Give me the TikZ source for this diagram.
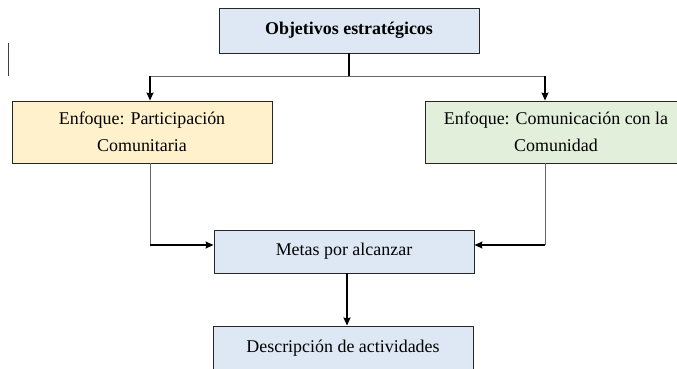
\documentclass[tikz,border=0pt]{standalone}
\usepackage{fontspec}
\setmainfont{Liberation Serif}
\usetikzlibrary{positioning,arrows.meta}

\definecolor{azul}{HTML}{DEE8F5}
\definecolor{amarillo}{HTML}{FFF1CC}
\definecolor{verde}{HTML}{E2EFDA}

\tikzset{
    caja/.style={draw=black!85, line width=0.9pt, align=center, inner sep=0pt,
        font=\fontsize{18}{27}\selectfont},
    flecha/.style={-{Stealth[length=8bp,width=7bp,inset=1bp]}, line width=1.3pt},
    linea/.style={line width=0.9pt, draw=black!60}
}

\begin{document}
\begin{tikzpicture}[x=1bp, y=-1bp]
        \useasboundingbox (0,0) rectangle (677,368);
        \clip (0,0) rectangle (677,368);
        %\draw[gray, dashed] (0,0) grid (677,368);

        \node[caja, fill=azul, minimum width=260bp, minimum height=45bp] (obj) at (349,30.5)
            {\textbf{Objetivos estratégicos}};
        \node[caja, fill=amarillo, minimum width=260bp, minimum height=62bp] (part) at (142,132)
            {Enfoque: Participación\\Comunitaria};
        \node[caja, fill=verde, minimum width=262bp, minimum height=62bp] (comu) at (556,132)
            {Enfoque: Comunicación con la\\Comunidad};
        \node[caja, fill=azul, minimum width=260bp, minimum height=43bp] (metas) at (344,251.5)
            {Metas por alcanzar};
        \node[caja, fill=azul, minimum width=260bp, minimum height=44bp] (desc) at (343,348)
            {Descripción de actividades};

        \coordinate (ramaI) at (150,76);
        \coordinate (ramaD) at (545,76);
        \coordinate (bajada) at (347,273);

        \draw[line width=1.2pt] (obj.south) -- (obj.south |- ramaI);
        \draw[linea] (ramaI) -- (ramaD);
        \draw[flecha] (ramaI) -- (part.north -| ramaI);
        \draw[flecha] (ramaD) -- (comu.north -| ramaD);

        \draw[linea] (part.south -| ramaI) -- ([yshift=6.5bp]metas.west -| ramaI);
        \draw[flecha] ([yshift=6.5bp]metas.west -| ramaI) -- ([yshift=6.5bp]metas.west);
        \draw[linea] (comu.south -| ramaD) -- ([yshift=6.5bp]metas.east -| ramaD);
        \draw[flecha] ([yshift=6.5bp]metas.east -| ramaD) -- ([yshift=6.5bp]metas.east);

        \draw[flecha, line width=1.8pt] (bajada) -- (bajada |- desc.north);

        \draw[black!75, line width=1.2pt] (8.5,43) -- (8.5,76);
    \end{tikzpicture}
\end{document}
